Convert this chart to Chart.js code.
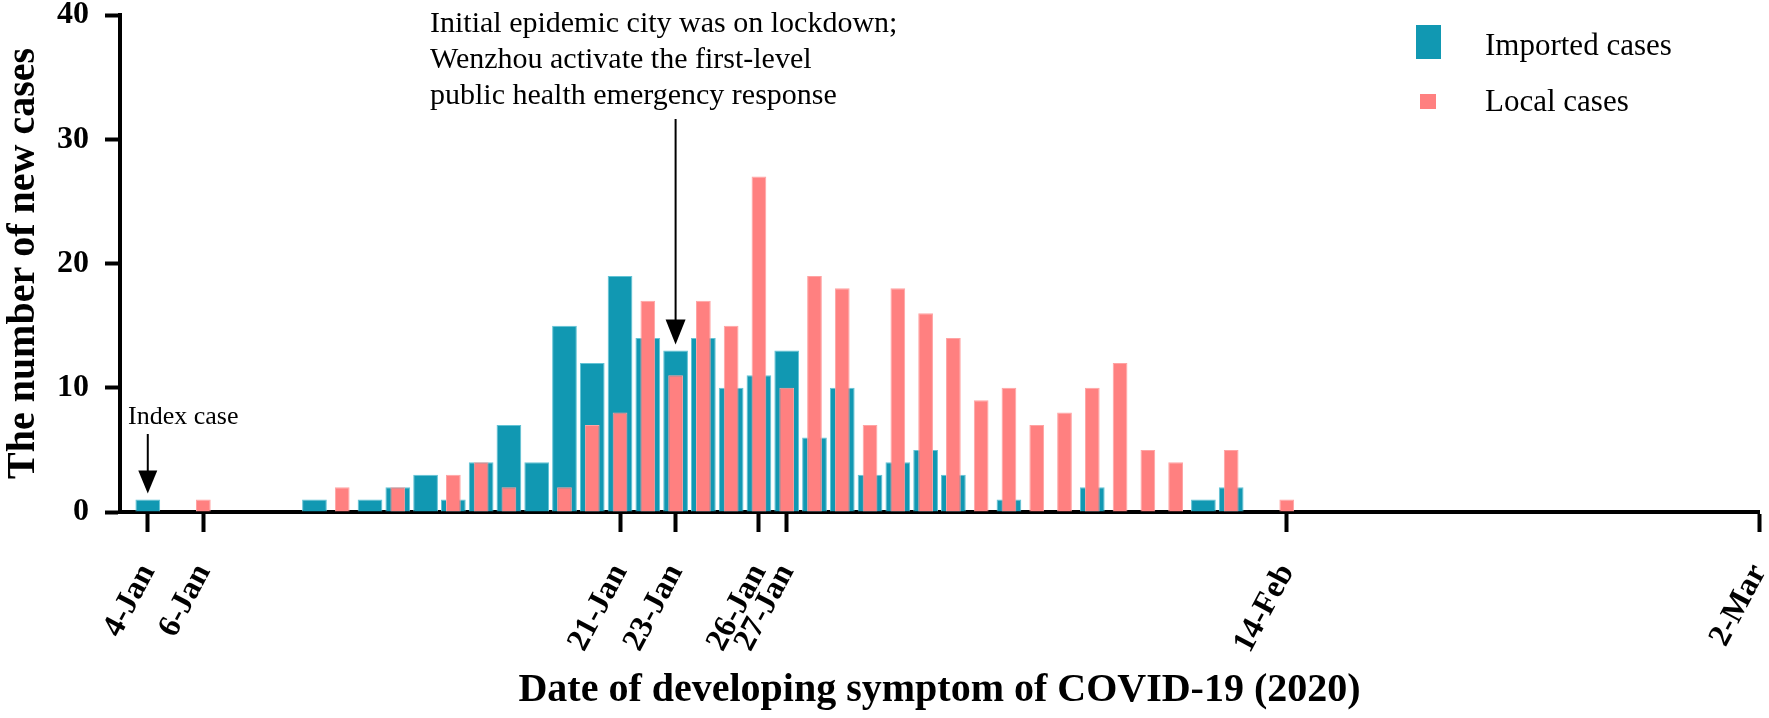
<!DOCTYPE html>
<html>
<head>
<meta charset="utf-8">
<script src="https://cdn.jsdelivr.net/npm/chart.js@4/dist/chart.umd.min.js"></script>
<style>
  html, body { margin: 0; padding: 0; background: #fff; }
  #wrap { width: 1769px; height: 718px; }
</style>
</head>
<body>
<div id="wrap"><canvas id="epiCurve" width="1769" height="718"></canvas></div>
<script>
// Days on the x axis, 3-Jan to 2-Mar 2020
const days = [
    '3-Jan', '4-Jan', '5-Jan', '6-Jan', '7-Jan', '8-Jan', '9-Jan', '10-Jan', '11-Jan', '12-Jan',
    '13-Jan', '14-Jan', '15-Jan', '16-Jan', '17-Jan', '18-Jan', '19-Jan', '20-Jan', '21-Jan', '22-Jan',
    '23-Jan', '24-Jan', '25-Jan', '26-Jan', '27-Jan', '28-Jan', '29-Jan', '30-Jan', '31-Jan', '1-Feb',
    '2-Feb', '3-Feb', '4-Feb', '5-Feb', '6-Feb', '7-Feb', '8-Feb', '9-Feb', '10-Feb', '11-Feb',
    '12-Feb', '13-Feb', '14-Feb', '15-Feb', '16-Feb', '17-Feb', '18-Feb', '19-Feb', '20-Feb', '21-Feb',
    '22-Feb', '23-Feb', '24-Feb', '25-Feb', '26-Feb', '27-Feb', '28-Feb', '29-Feb', '1-Mar', '2-Mar'
];

// Only these dates get a tick and a label
const shownTicks = ['4-Jan', '6-Jan', '21-Jan', '23-Jan', '26-Jan', '27-Jan', '14-Feb', '2-Mar'];

const importedCases = [
    null, 1, null, null, null, null, null, 1, null, 1,
    2, 3, 1, 4, 7, 4, 15, 12, 19, 14,
    13, 14, 10, 11, 13, 6, 10, 3, 4, 5,
    3, null, 1, null, null, 2, null, null, null, 1,
    2, null, null, null, null, null, null, null, null, null,
    null, null, null, null, null, null, null, null, null, null
];

const localCases = [
    null, null, null, 1, null, null, null, null, 2, null,
    2, null, 3, 4, 2, null, 2, 7, 8, 17,
    11, 17, 15, 27, 10, 19, 18, 7, 18, 16,
    14, 9, 10, 7, 8, 10, 12, 5, 4, null,
    5, null, 1, null, null, null, null, null, null, null,
    null, null, null, null, null, null, null, null, null, null
];

const yTicks = [0, 10, 20, 30, 40];

const colorImported = '#1198b2';
const colorLocal = '#ff8080';
const serif = "'Liberation Serif', 'Times New Roman', serif";

Chart.defaults.font.family = serif;
Chart.defaults.color = '#000';

// arrow pointing down, tip at (x, tipY)
function drawArrow(ctx, x, topY, tipY, headW, headH, lw) {
    ctx.save();
    ctx.strokeStyle = '#000';
    ctx.fillStyle = '#000';
    ctx.lineWidth = lw;
    ctx.beginPath();
    ctx.moveTo(x, topY);
    ctx.lineTo(x, tipY - headH + 2);
    ctx.stroke();
    ctx.beginPath();
    ctx.moveTo(x - headW / 2, tipY - headH);
    ctx.lineTo(x + headW / 2, tipY - headH);
    ctx.lineTo(x, tipY);
    ctx.closePath();
    ctx.fill();
    ctx.restore();
}

const annotations = {
    id: 'annotations',
    afterDraw(chart) {
        const { ctx, scales: { x, y } } = chart;
        ctx.save();
        ctx.fillStyle = '#000';
        ctx.textBaseline = 'alphabetic';
        ctx.textAlign = 'left';

        // Index case
        const xIdx = x.getPixelForValue(days.indexOf('4-Jan'));
        ctx.font = `26px ${serif}`;
        ctx.fillText('Index case', 128, 424);
        drawArrow(ctx, xIdx, 434, y.getPixelForValue(1) - 6, 19, 23, 2);

        // Lockdown note
        const xLock = x.getPixelForValue(days.indexOf('23-Jan'));
        ctx.font = `30px ${serif}`;
        ctx.fillText('Initial epidemic city was on lockdown;', 430, 32);
        ctx.fillText('Wenzhou activate the first-level', 430, 68);
        ctx.fillText('public health emergency response', 430, 104);
        drawArrow(ctx, xLock, 119, y.getPixelForValue(13) - 6, 20, 25, 2);

        // Legend
        ctx.fillStyle = colorImported;
        ctx.fillRect(1416, 25, 25, 34);
        ctx.fillStyle = colorLocal;
        ctx.fillRect(1420, 94, 16, 15);
        ctx.fillStyle = '#000';
        ctx.font = `31px ${serif}`;
        ctx.fillText('Imported cases', 1485, 55);
        ctx.fillText('Local cases', 1485, 111);
        ctx.restore();
    }
};

const isShown = (value) => shownTicks.includes(days[value]);

new Chart(document.getElementById('epiCurve'), {
    type: 'bar',
    data: {
        labels: days,
        datasets: [
            {
                label: 'Imported cases',
                data: importedCases,
                backgroundColor: colorImported,
                borderColor: '#62c3d5',
                borderWidth: 1,
                barPercentage: 0.89,
                categoryPercentage: 1,
                grouped: false,
                order: 2,
            },
            {
                label: 'Local cases',
                data: localCases,
                backgroundColor: colorLocal,
                borderColor: '#ffa3a3',
                borderWidth: 1,
                barPercentage: 0.53,
                categoryPercentage: 1,
                grouped: false,
                order: 1,
            }
        ]
    },
    options: {
        responsive: false,
        animation: false,
        devicePixelRatio: 1,
        layout: { padding: { top: 15, right: 10, left: 0, bottom: 0 } },
        plugins: {
            legend: { display: false },
            tooltip: { enabled: false },
        },
        scales: {
            x: {
                offset: false,
                grid: {
                    offset: false,
                    drawOnChartArea: false,
                    tickLength: 20,
                    tickWidth: 4,
                    tickColor: (c) => (c.tick && isShown(c.tick.value)) ? '#000' : 'rgba(0,0,0,0)',
                },
                border: { color: '#000', width: 4 },
                ticks: {
                    autoSkip: false,
                    source: 'data',
                    maxRotation: 62,
                    minRotation: 62,
                    padding: 26,
                    color: '#000',
                    font: { size: 32, weight: 'bold' },
                    callback: (value) => isShown(value) ? days[value] : null,
                },
                title: {
                    display: true,
                    text: 'Date of developing symptom of COVID-19 (2020)',
                    color: '#000',
                    font: { size: 40, weight: 'bold' },
                    padding: { top: 0, bottom: 3 },
                },
                afterBuildTicks: (scale) => {
                    scale.ticks = days.map((d, i) => ({ value: i }));
                },
                afterFit: (scale) => {
                    scale.height = 206;
                    scale.paddingLeft = 0;
                    scale.paddingRight = 0;
                },
            },
            y: {
                min: 0,
                max: 40,
                afterBuildTicks: (scale) => {
                    scale.ticks = yTicks.map(v => ({ value: v }));
                },
                grid: {
                    drawOnChartArea: false,
                    tickLength: 15,
                    tickWidth: 4,
                    tickColor: '#000',
                },
                border: { color: '#000', width: 4 },
                ticks: {
                    padding: 16,
                    color: '#000',
                    font: { size: 32, weight: 'bold' },
                },
                title: {
                    display: true,
                    text: 'The number of new cases',
                    color: '#000',
                    font: { size: 40, weight: 'bold' },
                    padding: { top: 0, bottom: 0 },
                },
                afterFit: (scale) => {
                    scale.width = 120;
                    scale.paddingTop = 0;
                    scale.paddingBottom = 0;
                },
            }
        }
    },
    plugins: [annotations]
});
</script>
</body>
</html>
